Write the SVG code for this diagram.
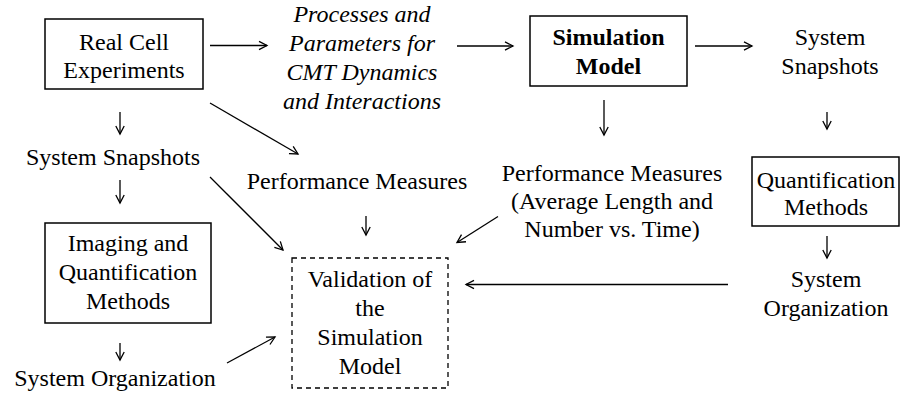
<svg xmlns="http://www.w3.org/2000/svg" width="911" height="397" viewBox="0 0 911 397">
<defs>
<marker id="ah" markerUnits="userSpaceOnUse" markerWidth="12" markerHeight="12" refX="10" refY="6" orient="auto" viewBox="0 0 12 12">
<polyline points="2,1.8 10,6 2,10.2" fill="none" stroke="#000" stroke-width="1.3"/>
</marker>
<style>
text{font-family:"Liberation Serif","Times New Roman",serif;font-size:24px;fill:#000;text-anchor:middle}
.it{font-style:italic}
.b{font-weight:bold}
.box{fill:#fff;stroke:#000;stroke-width:1.5}
.dash{fill:#fff;stroke:#000;stroke-width:1.3;stroke-dasharray:5,4}
.c line{stroke:#000;stroke-width:1.3;marker-end:url(#ah)}
</style>
</defs>
<rect width="911" height="397" fill="#fff"/>
<g id="realcell"><rect class="box" x="45" y="19" width="158" height="70"/><text x="124" y="50">Real Cell</text><text x="124" y="78">Experiments</text></g>
<g id="processes"><text class="it" x="362" y="22">Processes and</text><text class="it" x="362" y="51">Parameters for</text><text class="it" x="362" y="80">CMT Dynamics</text><text class="it" x="362" y="109">and Interactions</text></g>
<g id="simmodel"><rect class="box" x="530" y="16" width="157" height="70"/><text class="b" x="608.5" y="45">Simulation</text><text class="b" x="608.5" y="74">Model</text></g>
<g id="simsnapshots"><text x="830" y="45">System</text><text x="830" y="74">Snapshots</text></g>
<g id="simperf"><text x="612" y="181">Performance Measures</text><text x="612" y="209">(Average Length and</text><text x="612" y="237">Number vs. Time)</text></g>
<g id="quant"><rect class="box" x="752" y="157" width="147" height="69"/><text x="826" y="188">Quantification</text><text x="826" y="215">Methods</text></g>
<g id="simorg"><text x="826" y="287">System</text><text x="826" y="316">Organization</text></g>
<g id="realsnapshots"><text x="113" y="165">System Snapshots</text></g>
<g id="realperf"><text x="357" y="189">Performance Measures</text></g>
<g id="imaging"><rect class="box" x="45" y="223" width="166" height="100"/><text x="128" y="251">Imaging and</text><text x="128" y="280">Quantification</text><text x="128" y="309">Methods</text></g>
<g id="realorg"><text x="115" y="386">System Organization</text></g>
<g id="validation"><rect class="dash" x="292" y="258" width="156" height="130"/><text x="370" y="287">Validation of</text><text x="370" y="316">the</text><text x="370" y="345">Simulation</text><text x="370" y="374">Model</text></g>
<g id="connectors" class="c">
<line x1="210" y1="45.5" x2="267" y2="45.5"/>
<line x1="457" y1="46" x2="513" y2="46"/>
<line x1="695" y1="46" x2="752" y2="46"/>
<line x1="604" y1="100" x2="604" y2="135"/>
<line x1="827" y1="112" x2="827" y2="129"/>
<line x1="827" y1="236" x2="827" y2="258"/>
<line x1="728" y1="284.5" x2="466" y2="284.5"/>
<line x1="498" y1="216.5" x2="457" y2="242.5"/>
<line x1="120" y1="112" x2="120" y2="134"/>
<line x1="120" y1="180" x2="120" y2="203"/>
<line x1="210" y1="103" x2="298" y2="154"/>
<line x1="210" y1="177" x2="283" y2="250"/>
<line x1="366" y1="216" x2="366" y2="235"/>
<line x1="120" y1="343" x2="120" y2="360"/>
<line x1="227" y1="363" x2="275" y2="337"/>
</g>
</svg>
